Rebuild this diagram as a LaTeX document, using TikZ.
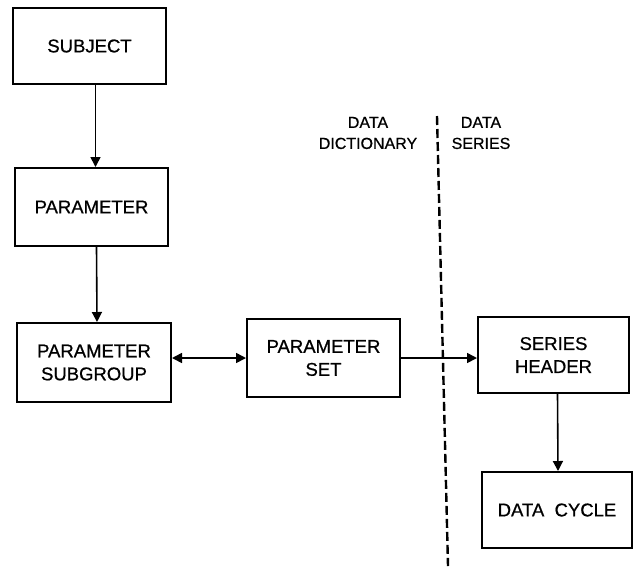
\documentclass[tikz,border=0pt]{standalone}
\usepackage{fontspec}
\setmainfont{Liberation Sans}[FakeBold=0.7]
\usetikzlibrary{arrows.meta}
\begin{document}
\begin{tikzpicture}[x=1pt,y=-1pt,
  box/.style={draw, line width=2pt, rectangle, align=center, inner sep=0pt,
    font=\fontsize{18.5}{23}\selectfont},
  lbl/.style={align=center, inner sep=0pt, font=\fontsize{16}{21}\selectfont},
  conn/.style={line width=1.6pt, -{Triangle[length=10pt,width=10pt]}},
  dconn/.style={line width=1.6pt, {Triangle[length=10pt,width=10pt]}-{Triangle[length=10pt,width=10pt]}},
  divider/.style={line width=2.4pt, dash pattern=on 9pt off 4pt}
]
\useasboundingbox (0,0) rectangle (634,566);

\node[box, minimum width=153pt, minimum height=76pt] (subject) at (89.5,46) {SUBJECT};
\node[box, minimum width=153pt, minimum height=78pt] (parameter) at (91.5,207) {PARAMETER};
\node[box, minimum width=154pt, minimum height=79pt] (subgroup) at (94,362.5) {PARAMETER\\SUBGROUP};
\node[box, minimum width=153pt, minimum height=78pt] (pset) at (323.5,358) {PARAMETER\\SET};
\node[box, minimum width=151pt, minimum height=76pt] (header) at (553.5,355) {SERIES\\HEADER};
\node[box, minimum width=150pt, minimum height=76pt] (cycle) at (557,510) {DATA\ \ CYCLE};

\node[lbl] (dict) at (368,133) {DATA\\DICTIONARY};
\node[lbl] (series) at (481,133) {DATA\\SERIES};

\coordinate (dtop) at (437,116);
\coordinate (dbot) at (448,566);
\draw[divider] (dtop) -- (dbot);

\draw[conn] ([xshift=6pt]subject.south) -- ([xshift=4pt]parameter.north);
\draw[conn] ([xshift=5pt]parameter.south) -- ([xshift=3pt]subgroup.north);
\draw[dconn] (subgroup.east |- pset.west) -- (pset.west);
\draw[conn] (pset.east) -- (pset.east -| header.west);
\draw[conn] ([xshift=4pt]header.south) -- ([xshift=1pt]cycle.north);
\end{tikzpicture}
\end{document}
